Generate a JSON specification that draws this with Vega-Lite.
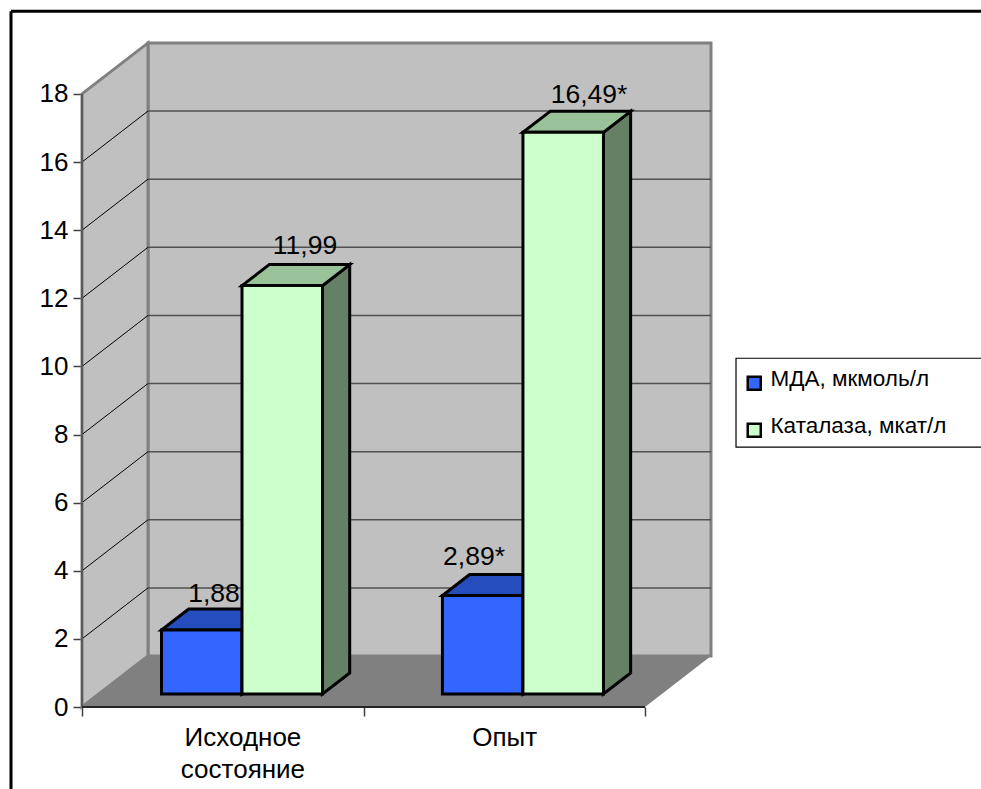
{
"$schema":"https://vega.github.io/schema/vega-lite/v6.json",
"width":981,"height":789,"padding":0,"autosize":{"type":"none"},
"background":"white",
"config":{"font":"Liberation Sans","view":{"stroke":null}},
"datasets":{
"bars":[
{"group":"Исходное состояние","series":"МДА, мкмоль/л","value":1.88,"label":"1,88"},
{"group":"Опыт","series":"МДА, мкмоль/л","value":2.89,"label":"2,89*"},
{"group":"Исходное состояние","series":"Каталаза, мкат/л","value":11.99,"label":"11,99"},
{"group":"Опыт","series":"Каталаза, мкат/л","value":16.49,"label":"16,49*"}
],
"ticks":[{"tick":2},{"tick":4},{"tick":6},{"tick":8},{"tick":10},{"tick":12},{"tick":14},{"tick":16}]
},
"encoding":{
"x":{"field":"X","type":"quantitative","scale":{"domain":[-0.2913,3.19361],"nice":false,"zero":false},
 "axis":{"orient":"bottom","offset":-82,"title":null,"domain":false,"grid":false,"values":[0,0.57,1,1.5,2],
  "tickSize":9,"tickColor":"#404040","tickWidth":1.5,"tickOpacity":{"condition":{"test":"datum.value==0.57||datum.value==1.5","value":0},"value":1},
  "labelExpr":"datum.value==0.57?['Исходное','состояние']:(datum.value==1.5?'Опыт':'')",
  "labelFontSize":26,"labelColor":"black","labelPadding":8,"labelLineHeight":32,"labelFlush":false,"labelOverlap":false,"labelAlign":"center"}},
"y":{"field":"Y","type":"quantitative","scale":{"domain":[-2.4075,20.758],"nice":false,"zero":false},
 "axis":{"orient":"left","offset":-81,"title":null,"domain":false,"grid":false,"values":[0,2,4,6,8,10,12,14,16,18],
  "format":"d","tickSize":8,"tickColor":"#404040","tickWidth":1.5,"labelFontSize":26,"labelColor":"black","labelPadding":5,"labelFlush":false,"labelOverlap":false}}
},
"layer":[
{"data":{"values":[{"side":"back wall"}]},"transform":[{"calculate":"0.23446","as":"X"},{"calculate":"2.23446","as":"X1"},{"calculate":"1.4974","as":"Y"},{"calculate":"19.4974","as":"Y1"}],
 "mark":{"type":"rect","fill":"#c0c0c0","stroke":"#808080","strokeWidth":3},
 "encoding":{"x2":{"field":"X1"},"y2":{"field":"Y1"}}},
{"data":{"values":[{"d":0},{"d":1}]},"transform":[{"calculate":"datum.d*0.23446","as":"X"},{"calculate":"18+datum.d*1.4974","as":"Y"},{"calculate":"datum.d*1.4974","as":"Y0"}],
 "mark":{"type":"area","fill":"#c0c0c0","stroke":"#808080","strokeWidth":3},
 "encoding":{"y2":{"field":"Y0"}}},
{"data":{"values":[{"d":0},{"d":1}]},"transform":[{"calculate":"datum.d*0.23446","as":"X"},{"calculate":"2+datum.d*0.23446","as":"X1"},{"calculate":"datum.d*1.4974","as":"Y"}],
 "mark":{"type":"area","orient":"horizontal","fill":"#808080"},
 "encoding":{"x2":{"field":"X1"}}},
{"data":{"name":"ticks"},"transform":[{"calculate":"0.23446","as":"X"},{"calculate":"2.23446","as":"X1"},{"calculate":"datum.tick+1.4974","as":"Y"}],
 "mark":{"type":"rule","color":"#505050","strokeWidth":1.5},
 "encoding":{"x2":{"field":"X1"}}},
{"data":{"name":"ticks"},"transform":[{"calculate":"0","as":"X"},{"calculate":"0.23446","as":"X1"},{"calculate":"datum.tick","as":"Y"},{"calculate":"datum.tick+1.4974","as":"Y1"}],
 "mark":{"type":"rule","color":"black","strokeWidth":1},
 "encoding":{"x2":{"field":"X1"},"y2":{"field":"Y1"}}},
{"data":{"values":[{"line":"value axis"}]},"transform":[{"calculate":"0","as":"X"},{"calculate":"0","as":"Y"},{"calculate":"18","as":"Y1"}],
 "mark":{"type":"rule","color":"#595959","strokeWidth":2},
 "encoding":{"y2":{"field":"Y1"}}},
{"data":{"values":[{"line":"category axis"}]},"transform":[{"calculate":"0","as":"X"},{"calculate":"0","as":"Y"},{"calculate":"2","as":"X1"}],
 "mark":{"type":"rule","color":"#262626","strokeWidth":2},
 "encoding":{"x2":{"field":"X1"}}},
{"data":{"name":"bars"},"transform":[
 {"calculate":"datum.group=='Опыт'?0.998:0","as":"g"},{"calculate":"datum.series=='МДА, мкмоль/л'?0:1","as":"s"},
 {"calculate":"datum.g+0.2824+datum.s*0.286+0.286","as":"xr"},{"calculate":"[0.255,0.667]","as":"d"},{"flatten":["d"]},
 {"calculate":"datum.xr+(datum.d-0.255)*0.23446","as":"X"},{"calculate":"datum.value+datum.d*1.4974","as":"Y"},{"calculate":"datum.d*1.4974","as":"Y0"}],
 "mark":{"type":"area","stroke":"black","strokeWidth":3,"strokeJoin":"miter"},
 "encoding":{"y2":{"field":"Y0"},"detail":{"field":"label"},"fill":{"condition":{"test":"datum.s==0","value":"#1f3f99"},"value":"#668066"}}},
{"data":{"name":"bars"},"transform":[
 {"calculate":"datum.group=='Опыт'?0.998:0","as":"g"},{"calculate":"datum.series=='МДА, мкмоль/л'?0:1","as":"s"},
 {"calculate":"datum.g+0.2824+datum.s*0.286","as":"xl"},{"calculate":"[0.255,0.667]","as":"d"},{"flatten":["d"]},
 {"calculate":"datum.xl+(datum.d-0.255)*0.23446","as":"X"},{"calculate":"datum.X+0.286","as":"X1"},{"calculate":"datum.value+datum.d*1.4974","as":"Y"}],
 "mark":{"type":"area","orient":"horizontal","stroke":"black","strokeWidth":3,"strokeJoin":"miter"},
 "encoding":{"x2":{"field":"X1"},"detail":{"field":"label"},"fill":{"condition":{"test":"datum.s==0","value":"#264dbd"},"value":"#99c299"}}},
{"data":{"name":"bars"},"transform":[
 {"calculate":"indexof(['1,88','11,99','2,89*','16,49*'],datum.label)","as":"i"},
 {"calculate":"[0.469,0.792,1.3925,1.801][datum.i]","as":"X"},{"calculate":"datum.value+[1.2,1.31,1.28,1.24][datum.i]","as":"Y"}],
 "mark":{"type":"text","fontSize":26.5,"baseline":"alphabetic","align":"center","color":"black"},
 "encoding":{"text":{"field":"label"}}},
{"data":{"name":"bars"},"transform":[
 {"calculate":"datum.group=='Опыт'?0.998:0","as":"g"},{"calculate":"datum.series=='МДА, мкмоль/л'?0:1","as":"s"},
 {"calculate":"datum.g+0.2824+datum.s*0.286","as":"X"},{"calculate":"datum.X+0.286","as":"X1"},{"calculate":"datum.value+0.382","as":"Y"},{"calculate":"0.382","as":"Y0"}],
 "mark":{"type":"rect","stroke":"black","strokeWidth":3},
 "encoding":{"x2":{"field":"X1"},"y2":{"field":"Y0"},
  "fill":{"field":"series","type":"nominal","sort":null,"scale":{"domain":["МДА, мкмоль/л","Каталаза, мкат/л"],"range":["#3366ff","#ccffcc"]},
   "legend":{"title":null,"orient":"none","legendX":743,"legendY":372,"padding":0,"symbolType":"square","symbolSize":170,"symbolStrokeColor":"black","symbolStrokeWidth":2.5,"labelFontSize":22.5,"labelColor":"black","labelOffset":5,"labelLimit":400,"rowPadding":20,"labelBaseline":"middle",
    "encode":{"labels":{"update":{"dy":{"value":-4}}}}}}}},
{"data":{"values":[{"box":"legend frame"}]},"transform":[{"calculate":"2.3233","as":"X"},{"calculate":"3.3","as":"X1"},{"calculate":"10.24","as":"Y"},{"calculate":"7.63","as":"Y1"}],
 "mark":{"type":"rect","fill":null,"stroke":"black","strokeWidth":1.2},
 "encoding":{"x2":{"field":"X1"},"y2":{"field":"Y1"}}},
{"data":{"values":[{"edge":"frame top"}]},"transform":[{"calculate":"-0.2522","as":"X"},{"calculate":"3.3","as":"X1"},{"calculate":"20.426","as":"Y"}],
 "mark":{"type":"rule","color":"black","strokeWidth":3},
 "encoding":{"x2":{"field":"X1"}}},
{"data":{"values":[{"edge":"frame left"}]},"transform":[{"calculate":"-0.2522","as":"X"},{"calculate":"20.426","as":"Y"},{"calculate":"-2.5","as":"Y1"}],
 "mark":{"type":"rule","color":"black","strokeWidth":3},
 "encoding":{"y2":{"field":"Y1"}}}
]
}
